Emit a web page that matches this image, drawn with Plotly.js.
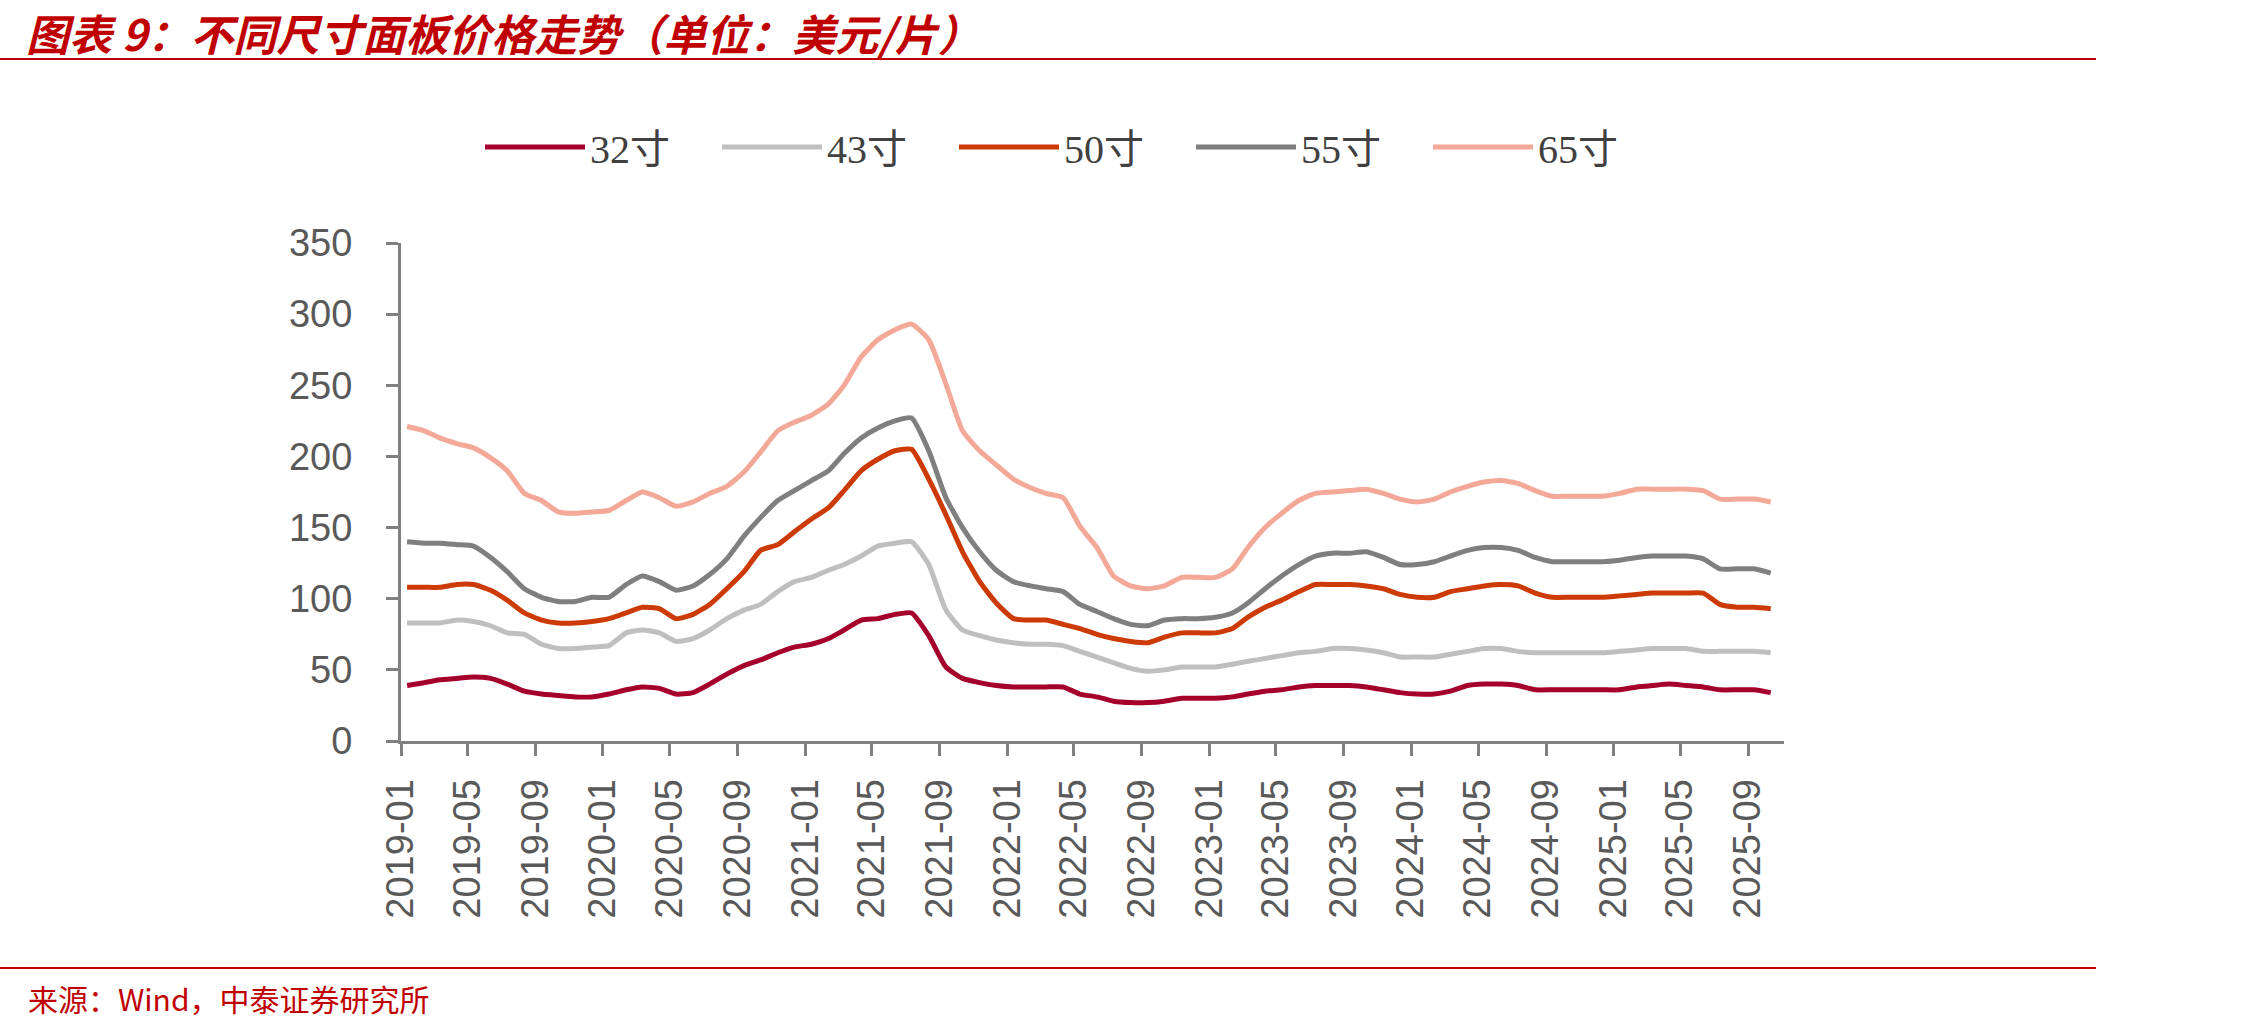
<!DOCTYPE html>
<html>
<head>
<meta charset="utf-8">
<script src="https://cdn.plot.ly/plotly-3.0.1.min.js"></script>
<style>
  html, body { margin: 0; padding: 0; background: #ffffff; }
  #chart { width: 2259px; height: 1035px; }
</style>
</head>
<body>
<div id="chart"></div>
<script>
// ---------------- DATA ----------------
const months = [
  "2019-01","2019-02","2019-03","2019-04","2019-05","2019-06","2019-07","2019-08","2019-09","2019-10","2019-11","2019-12",
  "2020-01","2020-02","2020-03","2020-04","2020-05","2020-06","2020-07","2020-08","2020-09","2020-10","2020-11","2020-12",
  "2021-01","2021-02","2021-03","2021-04","2021-05","2021-06","2021-07","2021-08","2021-09","2021-10","2021-11","2021-12",
  "2022-01","2022-02","2022-03","2022-04","2022-05","2022-06","2022-07","2022-08","2022-09","2022-10","2022-11","2022-12",
  "2023-01","2023-02","2023-03","2023-04","2023-05","2023-06","2023-07","2023-08","2023-09","2023-10","2023-11","2023-12",
  "2024-01","2024-02","2024-03","2024-04","2024-05","2024-06","2024-07","2024-08","2024-09","2024-10","2024-11","2024-12",
  "2025-01","2025-02","2025-03","2025-04","2025-05","2025-06","2025-07","2025-08","2025-09","2025-10"
];

const seriesNames = ["32寸", "43寸", "50寸", "55寸", "65寸"];

const price32 = [
  39, 41, 43, 44, 45, 44, 40, 35, 33, 32, 31, 31, 33, 36, 38, 37, 33, 34, 40, 47, 53, 57, 62, 66, 68, 72, 78, 85,
  86, 89, 90, 74, 52, 44, 41, 39, 38, 38, 38, 38, 33, 31, 28, 27, 27, 28, 30, 30, 30, 31, 33, 35, 36, 38, 39, 39,
  39, 38, 36, 34, 33, 33, 35, 39, 40, 40, 39, 36, 36, 36, 36, 36, 36, 38, 39, 40, 39, 38, 36, 36, 36, 34
];
const price43 = [
  83, 83, 83, 85, 84, 81, 76, 75, 68, 65, 65, 66, 67, 76, 78, 76, 70, 72, 78, 86, 92, 96, 105, 112, 115, 120, 124, 130,
  137, 139, 140, 124, 92, 78, 74, 71, 69, 68, 68, 67, 63, 59, 55, 51, 49, 50, 52, 52, 52, 54, 56, 58, 60, 62, 63, 65,
  65, 64, 62, 59, 59, 59, 61, 63, 65, 65, 63, 62, 62, 62, 62, 62, 63, 64, 65, 65, 65, 63, 63, 63, 63, 62
];
const price50 = [
  108, 108, 108, 110, 110, 106, 99, 90, 85, 83, 83, 84, 86, 90, 94, 93, 86, 89, 96, 107, 119, 134, 138, 147, 156, 164, 176, 190,
  198, 204, 205, 184, 159, 133, 112, 97, 86, 85, 85, 82, 79, 75, 72, 70, 69, 73, 76, 76, 76, 79, 87, 94, 99, 105, 110, 110,
  110, 109, 107, 103, 101, 101, 105, 107, 109, 110, 109, 104, 101, 101, 101, 101, 102, 103, 104, 104, 104, 104, 96, 94, 94, 93
];
const price55 = [
  140, 139, 139, 138, 137, 129, 119, 107, 101, 98, 98, 101, 101, 110, 116, 112, 106, 109, 117, 128, 144, 157, 169, 176, 183, 190, 202, 213,
  220, 225, 227, 204, 171, 150, 133, 120, 112, 109, 107, 105, 96, 91, 86, 82, 81, 85, 86, 86, 87, 90, 97, 107, 116, 124, 130, 132,
  132, 133, 129, 124, 124, 126, 130, 134, 136, 136, 134, 129, 126, 126, 126, 126, 127, 129, 130, 130, 130, 128, 121, 121, 121, 118
];
const price65 = [
  221, 218, 213, 209, 206, 199, 190, 174, 169, 161, 160, 161, 162, 169, 175, 171, 165, 168, 174, 179, 189, 203, 218, 224, 229, 237, 250, 270,
  282, 289, 293, 282, 251, 218, 204, 194, 184, 178, 174, 171, 151, 136, 116, 109, 107, 109, 115, 115, 115, 121, 136, 150, 160, 169, 174, 175,
  176, 177, 174, 170, 168, 170, 175, 179, 182, 183, 181, 176, 172, 172, 172, 172, 174, 177, 177, 177, 177, 176, 170, 170, 170, 168
];

const tickLabels = [
  "2019-01","2019-05","2019-09","2020-01","2020-05","2020-09","2021-01","2021-05","2021-09",
  "2022-01","2022-05","2022-09","2023-01","2023-05","2023-09","2024-01","2024-05","2024-09",
  "2025-01","2025-05","2025-09"
];
const yTicks = [0, 50, 100, 150, 200, 250, 300, 350];

const titleText = "图表 9：不同尺寸面板价格走势（单位：美元/片）";
const sourceText = "来源：Wind，中泰证券研究所";

// ---------------- STYLE ----------------
const W = 2259, H = 1035;
const plotL = 401, plotR = 1784, plotT = 243, plotB = 741;
const colors = ["#A5002B", "#BFBFBF", "#CC3A06", "#7F7F7F", "#F4A898"];
const red = "#C00000";

const px2x = p => (p - plotL) / (plotR - plotL);
const px2y = p => (plotB - p) / (plotB - plotT);

const xDates = months.map(m => m + "-12");
const allSeries = [price32, price43, price50, price55, price65];

const traces = allSeries.map((vals, i) => ({
  type: "scatter",
  mode: "lines",
  name: seriesNames[i],
  x: xDates,
  y: vals,
  line: { color: colors[i], width: 5, shape: "spline", smoothing: 0.5 },
  hoverinfo: "skip"
}));

const layout = {
  width: W,
  height: H,
  paper_bgcolor: "#ffffff",
  plot_bgcolor: "#ffffff",
  margin: { l: plotL, r: W - plotR, t: plotT, b: H - plotB, pad: 0 },
  showlegend: true,
  title: {
    text: titleText,
    xref: "container", yref: "container",
    x: 26 / W, xanchor: "left",
    y: 1 - 36 / H, yanchor: "middle",
    font: { family: "Noto Sans CJK SC", size: 43, color: red, weight: "bold", style: "italic" }
  },
  legend: {
    orientation: "h",
    xref: "container", yref: "container",
    x: 480 / W, xanchor: "left",
    y: 1 - 147 / H, yanchor: "middle",
    font: { family: "Liberation Serif, Noto Sans CJK SC", size: 40, color: "#404040" },
    itemwidth: 100,
    entrywidth: 122,
    entrywidthmode: "pixels",
    bgcolor: "rgba(0,0,0,0)",
    borderwidth: 0,
    traceorder: "normal"
  },
  xaxis: {
    type: "date",
    range: ["2019-01-01", "2025-11-05"],
    tickmode: "array",
    tickvals: tickLabels.map(t => t + "-01"),
    ticktext: tickLabels,
    tickangle: -90,
    ticks: "outside",
    ticklen: 12,
    tickwidth: 3,
    tickcolor: "#808080",
    showline: true,
    linecolor: "#808080",
    linewidth: 3,
    showgrid: false,
    zeroline: false,
    ticklabelstandoff: 8,
    tickfont: { family: "Liberation Sans, Arial", size: 38, color: "#595959" },
    fixedrange: true
  },
  yaxis: {
    range: [0, 350],
    tickmode: "array",
    tickvals: yTicks,
    ticktext: yTicks.map(String),
    ticks: "outside",
    ticklen: 12,
    tickwidth: 3,
    tickcolor: "#808080",
    showline: true,
    linecolor: "#808080",
    linewidth: 3,
    showgrid: false,
    zeroline: false,
    ticklabelstandoff: 26,
    tickfont: { family: "Liberation Sans, Arial", size: 38, color: "#595959" },
    fixedrange: true
  },
  shapes: [
    { type: "line", xref: "paper", yref: "paper", x0: px2x(0), x1: px2x(2096), y0: px2y(59), y1: px2y(59),
      line: { color: red, width: 2 } },
    { type: "line", xref: "paper", yref: "paper", x0: px2x(0), x1: px2x(2096), y0: px2y(968), y1: px2y(968),
      line: { color: red, width: 2 } }
  ],
  annotations: [
    { text: sourceText, xref: "paper", yref: "paper", x: px2x(26), y: px2y(998),
      xanchor: "left", yanchor: "middle", showarrow: false,
      font: { family: "Noto Sans CJK SC", size: 30, color: red } }
  ]
};

Plotly.newPlot("chart", traces, layout, { displayModeBar: false, staticPlot: true });
</script>
</body>
</html>
